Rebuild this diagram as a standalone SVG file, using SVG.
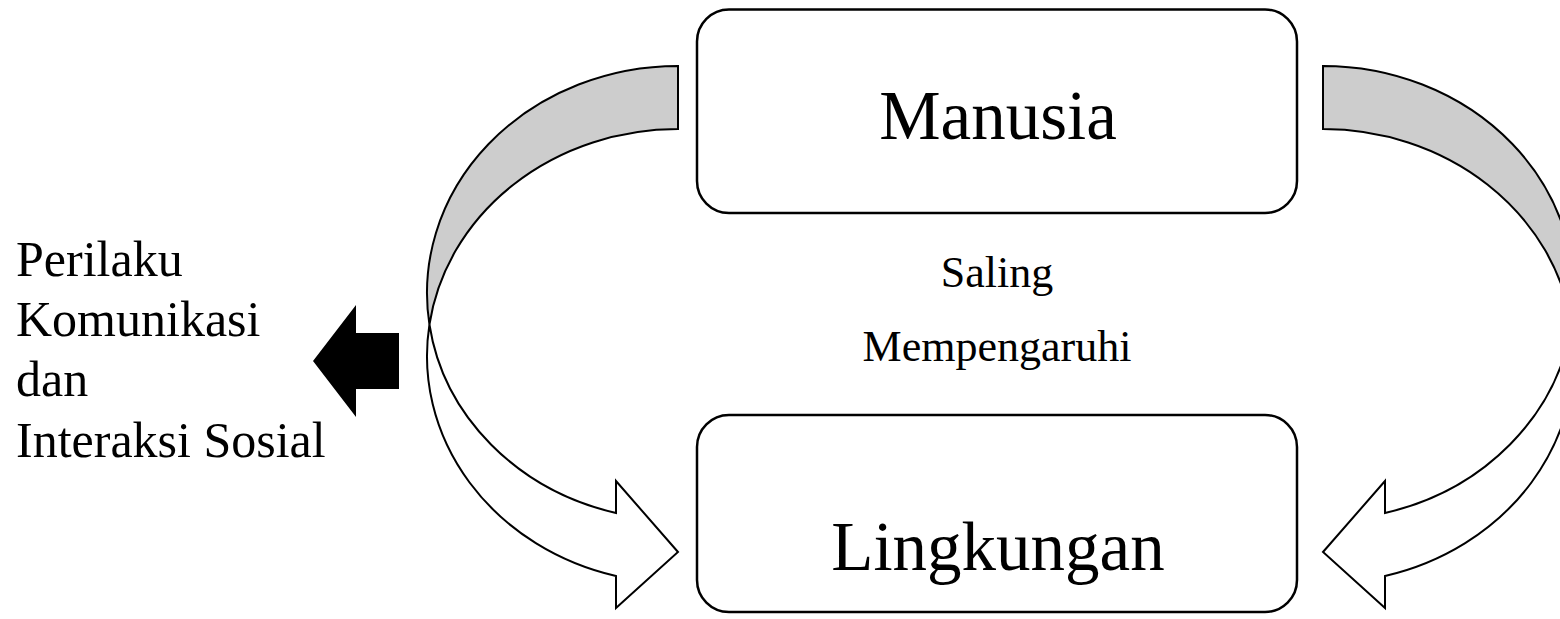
<svg xmlns="http://www.w3.org/2000/svg" width="1560" height="619" viewBox="0 0 1560 619">
  <style>
    .box { fill: #ffffff; stroke: #000000; stroke-width: 2.5; }
    .back { fill: #cdcdcd; stroke: #000000; stroke-width: 2; stroke-linejoin: miter; }
    .front { fill: #ffffff; stroke: #000000; stroke-width: 2; stroke-linejoin: miter; }
    .t { font-family: "Liberation Serif", "Times New Roman", serif; fill: #000000; }
    .big { font-size: 69px; text-anchor: middle; }
    .mid { font-size: 44px; text-anchor: middle; }
    .side { font-size: 50px; }
  </style>
  <defs>
    <!-- curved band arrow: shaded back half, white front half ending in a head -->
    <g id="curved-arrow">
      <path class="back" d="M678,66 A251,227 0 0 0 429.43,324.5 A251,227 0 0 1 678,129 Z"/>
      <path class="front" d="M429.43,324.5 A251,227 0 0 0 616,513 L616,481 L678,552 L616,608 L616,576 A251,227 0 0 1 429.43,324.5 Z"/>
    </g>
  </defs>

  <g id="connectors">
    <use href="#curved-arrow"/>
    <use href="#curved-arrow" transform="translate(2001,0) scale(-1,1)"/>
    <path id="output-arrow" d="M313,361 L356,305 L356,333 L399,333 L399,389 L356,389 L356,417 Z" fill="#000000"/>
  </g>

  <g id="node-manusia">
    <rect class="box" x="697" y="9.5" width="600" height="203.5" rx="32" ry="32"/>
    <text class="t big" x="998" y="139">Manusia</text>
  </g>

  <g id="node-lingkungan">
    <rect class="box" x="697" y="415" width="600" height="197" rx="32" ry="32"/>
    <text class="t big" x="998" y="570">Lingkungan</text>
  </g>

  <g id="label-saling">
    <text class="t mid" x="997" y="287">Saling</text>
    <text class="t mid" x="997" y="361">Mempengaruhi</text>
  </g>

  <g id="label-perilaku">
    <text class="t side" x="16" y="276">Perilaku</text>
    <text class="t side" x="16" y="336">Komunikasi</text>
    <text class="t side" x="16" y="396">dan</text>
    <text class="t side" x="16" y="457">Interaksi Sosial</text>
  </g>
</svg>
